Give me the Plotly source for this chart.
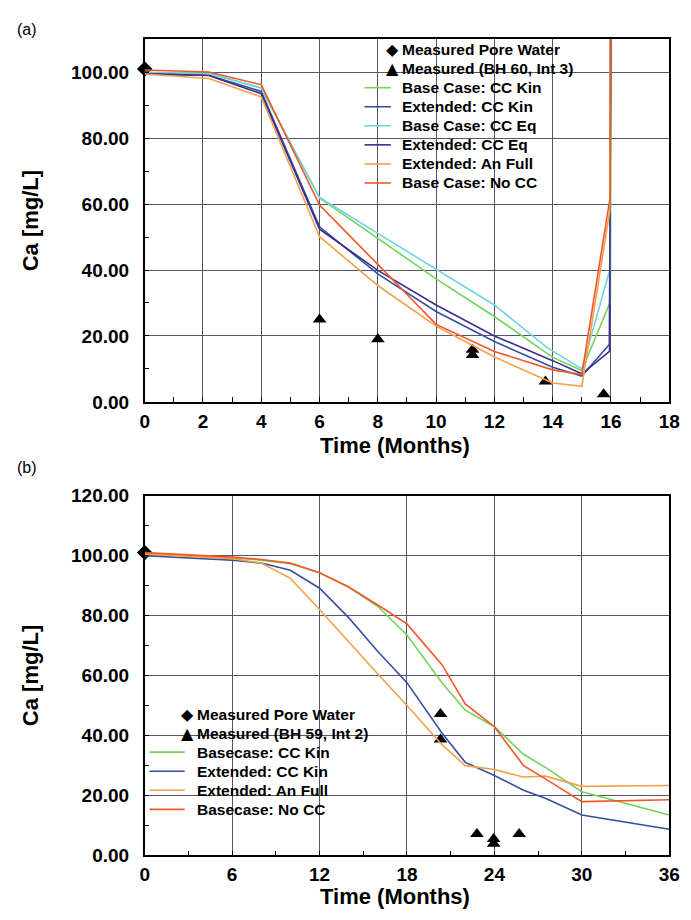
import plotly.graph_objects as go

# ---------------- Panel (a) data ----------------
meas_pore_a_t = [0]
meas_pore_a_v = [101]
meas_bh60_t = [6, 8, 11.25, 11.25, 13.75, 15.75]
meas_bh60_v = [25, 19, 15.8, 14.2, 6.2, 2.3]

a_base_cc_kin_t = [0, 2.2, 4, 6, 8, 10, 12, 14, 15, 15.98, 16.02]
a_base_cc_kin_v = [99.8, 99.7, 95.2, 61.9, 49.6, 37.3, 25.9, 13.5, 9.5, 30.4, 150]
a_ext_cc_kin_t = [0, 2.2, 4, 6, 8, 10, 12, 14, 15, 15.95, 16.0]
a_ext_cc_kin_v = [99.4, 99.1, 94.2, 53.1, 38.8, 27.4, 18.3, 10.5, 7.8, 17.5, 150]
a_base_cc_eq_t = [0, 2.2, 4, 6, 8, 10, 12, 13.8, 15, 15.96, 16.0]
a_base_cc_eq_v = [100.0, 99.7, 95.2, 62.0, 51.1, 40.2, 29.4, 16.5, 10.0, 40, 150]
a_ext_cc_eq_t = [0, 2.2, 4, 6, 8, 10, 12, 14, 15, 15.95, 16.01]
a_ext_cc_eq_v = [99.6, 99.0, 93.5, 52.4, 39.9, 29.4, 20.0, 12.5, 8.5, 15.3, 150]
a_ext_an_full_t = [0, 2.2, 4, 6, 8, 10, 12, 14, 15, 15.96, 15.98]
a_ext_an_full_v = [99.5, 98.1, 92.5, 50.1, 35.3, 23.0, 13.6, 5.7, 4.7, 58, 150]
a_base_no_cc_t = [0, 2.2, 4, 6, 8, 10, 12, 14, 15, 15.97, 16.0]
a_base_no_cc_v = [100.7, 100.1, 96.2, 59.7, 41.7, 23.5, 15.3, 9.7, 8.3, 62, 150]

x_ticks_a = [0, 2, 4, 6, 8, 10, 12, 14, 16, 18]
y_ticks_a = [0, 20, 40, 60, 80, 100]

# ---------------- Panel (b) data ----------------
meas_pore_b_t = [0]
meas_pore_b_v = [101]
meas_bh59_t = [20.3, 20.3, 22.8, 23.95, 23.95, 25.7]
meas_bh59_v = [47.1, 38.6, 7.1, 5.4, 3.8, 7.1]

b_t = [0, 6, 8, 10, 12, 14, 16, 18, 20.4, 22, 24, 26, 27.5, 30, 36]
b_base_cc_kin_v = [100.8, 99.3, 98.5, 97.3, 94.3, 89.5, 83.0, 73.5, 57.6, 48.4, 42.9, 33.7, 29.3, 21.2, 13.4]
b_ext_cc_kin_v = [100.0, 98.5, 97.5, 95.1, 89.1, 79.3, 68.0, 57.6, 40.8, 31.0, 26.6, 21.7, 19.0, 13.4, 8.7]
b_ext_an_full_v = [100.5, 99.0, 97.5, 92.4, 82.0, 71.2, 60.5, 50.0, 36.9, 29.9, 28.6, 26.1, 26.4, 23.0, 23.3]
b_base_no_cc_v = [101.0, 99.5, 98.7, 97.5, 94.3, 89.5, 83.5, 77.2, 63.6, 50.5, 42.9, 29.9, 25.5, 17.9, 18.5]

x_ticks_b = [0, 6, 12, 18, 24, 30, 36]
y_ticks_b = [0, 20, 40, 60, 80, 100, 120]

C_GREEN = "#74d45a"
C_BLUE = "#34509f"
C_CYAN = "#6fd3e0"
C_PURPLE = "#3a2f8c"
C_ORANGE = "#f5a04c"
C_RED = "#f0582c"

FONT = "Liberation Sans, Arial, Helvetica, sans-serif"
W, H = 691, 920

fig = go.Figure()
legend_a = []  # (name, kind, color)
legend_b = []

def line(x, y, name, color, xa, ya, leg):
    fig.add_trace(go.Scatter(x=x, y=y, mode="lines", name=name, showlegend=False,
                             line=dict(color=color, width=1.6), xaxis=xa, yaxis=ya))
    leg.append((name, "line", color))

def marks(x, y, name, symbol, xa, ya, leg):
    fig.add_trace(go.Scatter(x=x, y=y, mode="markers", name=name, showlegend=False,
                             marker=dict(symbol=symbol, color="black", size=12),
                             cliponaxis=False, xaxis=xa, yaxis=ya))
    leg.append((name, symbol, "black"))

# Panel (a)
marks(meas_pore_a_t, meas_pore_a_v, "Measured Pore Water", "diamond", "x", "y", legend_a)
marks(meas_bh60_t, meas_bh60_v, "Measured (BH 60, Int 3)", "triangle-up", "x", "y", legend_a)
line(a_base_cc_kin_t, a_base_cc_kin_v, "Base Case: CC Kin", C_GREEN, "x", "y", legend_a)
line(a_ext_cc_kin_t, a_ext_cc_kin_v, "Extended: CC Kin", C_BLUE, "x", "y", legend_a)
line(a_base_cc_eq_t, a_base_cc_eq_v, "Base Case: CC Eq", C_CYAN, "x", "y", legend_a)
line(a_ext_cc_eq_t, a_ext_cc_eq_v, "Extended: CC Eq", C_PURPLE, "x", "y", legend_a)
line(a_ext_an_full_t, a_ext_an_full_v, "Extended: An Full", C_ORANGE, "x", "y", legend_a)
line(a_base_no_cc_t, a_base_no_cc_v, "Base Case: No CC", C_RED, "x", "y", legend_a)

# Panel (b)
marks(meas_pore_b_t, meas_pore_b_v, "Measured Pore Water", "diamond", "x2", "y2", legend_b)
marks(meas_bh59_t, meas_bh59_v, "Measured (BH 59, Int 2)", "triangle-up", "x2", "y2", legend_b)
line(b_t, b_base_cc_kin_v, "Basecase: CC Kin", C_GREEN, "x2", "y2", legend_b)
line(b_t, b_ext_cc_kin_v, "Extended: CC Kin", C_BLUE, "x2", "y2", legend_b)
line(b_t, b_ext_an_full_v, "Extended: An Full", C_ORANGE, "x2", "y2", legend_b)
line(b_t, b_base_no_cc_v, "Basecase: No CC", C_RED, "x2", "y2", legend_b)

xdom = [143 / W, 680 / W]
ydom_a = [1 - 401 / H, 1 - 30 / H]
ydom_b = [1 - 865 / H, 1 - 497 / H]

tickfont = dict(family=FONT, size=19, color="black", weight="bold")
ytitlefont = dict(family=FONT, size=22, color="black", weight="bold")
xtitlefont = dict(family=FONT, size=22, color="black", weight="bold")
grid = "#55556a"

def xaxis(rng, ticks, minor_dtick, anchor, lblgap):
    return dict(domain=xdom, range=rng, tickvals=ticks, showgrid=True, gridcolor=grid,
                gridwidth=1, showline=True, linecolor="black", linewidth=1.5, mirror=True,
                ticks="inside", ticklen=5, tickcolor="black", zeroline=False,
                minor=dict(dtick=minor_dtick, ticks="inside", ticklen=5, tickcolor="black", showgrid=False),
                tickfont=tickfont, anchor=anchor, ticklabelstandoff=lblgap)

def yaxis(rng, ticks, dom, anchor):
    return dict(domain=dom, range=rng, tickvals=ticks, tickformat=".2f", showgrid=True,
                gridcolor=grid, gridwidth=1, showline=True, linecolor="black", linewidth=1.5,
                mirror=True, ticks="inside", ticklen=5, tickcolor="black", zeroline=False,
                minor=dict(dtick=10, ticks="inside", ticklen=5, tickcolor="black", showgrid=False),
                tickfont=tickfont, ticklabelstandoff=10, anchor=anchor,
                title=dict(text="Ca [mg/L]", font=ytitlefont, standoff=26))

annotations = [
    dict(text="(a)", x=10 / W, y=1 - 20 / H, xref="paper", yref="paper",
         xanchor="left", yanchor="middle", showarrow=False,
         font=dict(family=FONT, size=16, color="black")),
    dict(text="(b)", x=10 / W, y=1 - 468 / H, xref="paper", yref="paper",
         xanchor="left", yanchor="middle", showarrow=False,
         font=dict(family=FONT, size=16, color="black")),
    dict(text="Time (Months)", x=399 / W, y=1 - 446 / H, xref="paper", yref="paper",
         xanchor="center", yanchor="middle", showarrow=False, font=xtitlefont),
    dict(text="Time (Months)", x=399 / W, y=1 - 907 / H, xref="paper", yref="paper",
         xanchor="center", yanchor="middle", showarrow=False, font=xtitlefont),
]
shapes = []

GLYPH = {"diamond": "\u25C6", "triangle-up": "\u25B2"}

def build_legend(items, line_x0, line_x1, glyph_x, text_x, y_first, dy):
    for i, (name, kind, color) in enumerate(items):
        yy = 1 - (y_first + i * dy) / H
        if kind == "line":
            shapes.append(dict(type="line", xref="paper", yref="paper",
                               x0=line_x0 / W, x1=line_x1 / W, y0=yy, y1=yy,
                               line=dict(color=color, width=1.6)))
        else:
            annotations.append(dict(text=GLYPH[kind], x=glyph_x / W, y=yy, xref="paper", yref="paper",
                                    xanchor="center", yanchor="middle", showarrow=False,
                                    font=dict(family="DejaVu Sans", size=16, color="black")))
        annotations.append(dict(text=name, x=text_x / W, y=yy, xref="paper", yref="paper",
                                xanchor="left", yanchor="middle", showarrow=False,
                                font=dict(family=FONT, size=15.5, color="black", weight="bold")))

build_legend(legend_a, 368, 395, 397, 404, 40.5, 19.5)
build_legend(legend_b, 148, 184, 187, 194, 720.5, 19.5)

fig.update_layout(
    width=W, height=H, autosize=False,
    margin=dict(l=0, r=0, t=0, b=0),
    paper_bgcolor="white", plot_bgcolor="white",
    font=dict(family=FONT, color="black"),
    showlegend=False,
    xaxis=xaxis([0, 18], x_ticks_a, 1, "y", 2),
    yaxis=yaxis([0, 110], y_ticks_a, ydom_a, "x"),
    xaxis2=xaxis([0, 36], x_ticks_b, 3, "y2", 1),
    yaxis2=yaxis([0, 120], y_ticks_b, ydom_b, "x2"),
    annotations=annotations,
    shapes=shapes,
)

fig.write_html("out.html")
